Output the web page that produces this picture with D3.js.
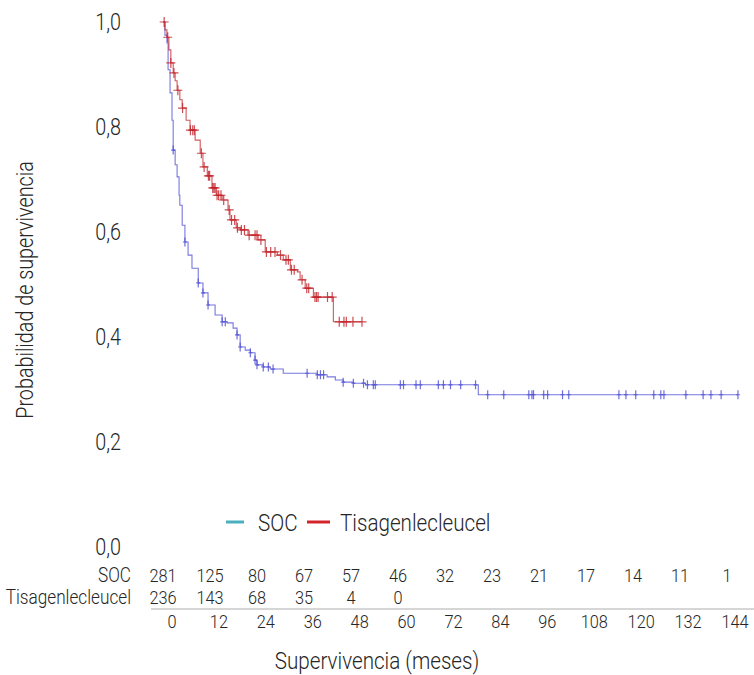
<!DOCTYPE html>
<html>
<head>
<meta charset="utf-8">
<script src="https://cdn.jsdelivr.net/npm/d3@7"></script>
<style>
  html, body { margin: 0; padding: 0; background: #fff; }
  svg { display: block; }
  text { font-family: Roboto, "Noto Sans", sans-serif; font-weight: 300; fill: #262626; }
</style>
</head>
<body>
<svg id="chart" width="754" height="675"></svg>
<script>
// Kaplan-Meier estimates: time of each drop (months) and survival after it
const socTime = [0, 0.5, 1.0, 1.3, 1.8, 2.3, 2.6, 3.1, 3.6, 4.1, 4.3, 4.9, 5.6, 6.4, 7.4, 9.0, 10.2, 11.5, 13.3, 15.1, 16.4, 17.9, 18.9, 19.7, 21.0, 22.3, 23.5, 24.0, 25.6, 27.4, 30.7, 39.4, 41.9, 44.0, 46.0, 48.6, 51.7, 80.5];
const socSurv = [1.0, 0.975, 0.96, 0.909, 0.865, 0.813, 0.756, 0.728, 0.705, 0.670, 0.651, 0.613, 0.581, 0.556, 0.531, 0.503, 0.484, 0.461, 0.442, 0.429, 0.427, 0.417, 0.404, 0.381, 0.375, 0.370, 0.356, 0.347, 0.343, 0.339, 0.331, 0.328, 0.324, 0.318, 0.314, 0.312, 0.309, 0.290];
const socEnd = 146.8;
const socCensor = [2.6, 5.6, 9.0, 10.2, 11.5, 15.1, 15.9, 18.9, 19.7, 22.3, 23.5, 24.0, 25.6, 26.9, 28.1, 36.8, 39.4, 40.2, 41.0, 46.0, 48.6, 51.2, 52.2, 53.7, 54.2, 60.6, 61.4, 64.6, 65.7, 70.3, 71.6, 73.4, 76.0, 79.8, 82.9, 87.0, 93.4, 94.2, 94.6, 97.2, 98.2, 102.0, 103.6, 116.4, 118.2, 120.7, 125.3, 127.1, 127.9, 133.5, 137.9, 139.9, 142.5, 146.8];

const tisaTime = [0, 0.5, 1.0, 1.5, 2.0, 2.6, 3.1, 3.6, 4.3, 4.9, 5.9, 6.9, 8.2, 9.5, 10.2, 11.3, 12.5, 13.6, 15.1, 16.6, 17.1, 18.7, 19.7, 21.7, 24.3, 26.1, 29.2, 30.7, 32.5, 34.3, 35.0, 36.3, 38.4, 43.5];
const tisaSurv = [1.0, 0.985, 0.971, 0.947, 0.922, 0.903, 0.888, 0.870, 0.852, 0.836, 0.813, 0.794, 0.775, 0.750, 0.724, 0.707, 0.684, 0.670, 0.661, 0.642, 0.623, 0.608, 0.604, 0.594, 0.585, 0.562, 0.556, 0.547, 0.528, 0.524, 0.509, 0.493, 0.476, 0.429];
const tisaEnd = 50.8;
const tisaCensor = [0.3, 1.2, 2.0, 2.8, 3.8, 5.0, 7.0, 7.6, 8.0, 9.8, 10.5, 11.6, 11.9, 12.7, 13.0, 13.3, 13.8, 14.2, 14.8, 15.5, 16.9, 17.5, 18.3, 19.0, 20.0, 20.8, 22.0, 23.5, 24.0, 25.0, 26.4, 27.5, 28.6, 30.0, 31.4, 32.0, 32.8, 33.5, 35.5, 36.7, 37.2, 38.8, 39.2, 39.6, 42.0, 43.2, 45.0, 46.2, 46.8, 48.5, 50.8];

// Numbers at risk
const riskMonths = [0, 12, 24, 36, 48, 60, 72, 84, 96, 108, 120, 132, 144];
const socRisk = [281, 125, 80, 67, 57, 46, 32, 23, 21, 17, 14, 11, 1];
const tisaRisk = [236, 143, 68, 35, 4, 0];

const yTicks = [0, 0.2, 0.4, 0.6, 0.8, 1.0];
const seriesNames = ["SOC", "Tisagenlecleucel"];

const svg = d3.select("#chart");
const COND = 0.86; // horizontal squeeze for a condensed look

const x = d3.scaleLinear().domain([0, 144]).range([163, 727]);
const y = d3.scaleLinear().domain([0, 1]).range([547, 22]);
const xLab = d3.scaleLinear().domain([0, 144]).range([172, 735]);

function label(g, txt, px, py, size, anchor, rotate) {
  return g.append("text")
    .attr("transform", `translate(${px},${py})` + (rotate ? ` rotate(${rotate})` : "") + ` scale(${COND},1)`)
    .attr("text-anchor", anchor || "start")
    .style("font-size", size + "px")
    .text(txt);
}

const comma = d3.format(".1f");
const fmt = v => comma(v).replace(".", ",");

// y tick labels
const yAxisG = svg.append("g");
yTicks.forEach(v => label(yAxisG, fmt(v), 121, y(v) + 8, 23, "end"));

// y title
label(svg, "Probabilidad de supervivencia", 33, 290, 23, "middle", -90);

// survival curves
function stepPoints(times, surv, end) {
  const pts = times.map((t, i) => [t, surv[i]]);
  pts.push([end, surv[surv.length - 1]]);
  return pts;
}
function survAt(times, surv, t) {
  let s = surv[0];
  for (let i = 0; i < times.length; i++) if (times[i] <= t) s = surv[i];
  return s;
}
const line = d3.line().x(d => x(d[0])).y(d => y(d[1])).curve(d3.curveStepAfter);

const series = [
  { times: socTime, surv: socSurv, end: socEnd, censor: socCensor, color: "#4a4ad4", w: 4, h: 9 },
  { times: tisaTime, surv: tisaSurv, end: tisaEnd, censor: tisaCensor, color: "#c01f26", w: 9, h: 10 }
];

series.forEach(s => {
  const g = svg.append("g");
  g.append("path")
    .attr("d", line(stepPoints(s.times, s.surv, s.end)))
    .attr("fill", "none")
    .attr("stroke", s.color)
    .attr("stroke-width", 1.1)
    .attr("stroke-opacity", 0.75);
  g.selectAll("path.cm")
    .data(s.censor)
    .join("path")
    .attr("class", "cm")
    .attr("d", t => {
      const cx = x(t), cy = y(survAt(s.times, s.surv, t));
      return `M${cx - s.w / 2},${cy}H${cx + s.w / 2}M${cx},${cy - s.h / 2}V${cy + s.h / 2}`;
    })
    .attr("stroke", s.color)
    .attr("stroke-width", 1.2)
    .attr("stroke-opacity", 0.8)
    .attr("fill", "none");
});

// legend
const legendColors = ["#4bb0bd", "#d4242b"];
const leg = svg.append("g");
const legItems = [{ lx: 226, tx: 258 }, { lx: 307, tx: 340 }];
seriesNames.forEach((n, i) => {
  leg.append("line")
    .attr("x1", legItems[i].lx).attr("x2", legItems[i].lx + (i ? 23 : 18))
    .attr("y1", 522).attr("y2", 522)
    .attr("stroke", legendColors[i]).attr("stroke-width", 3);
  label(leg, n, legItems[i].tx, 531, 24, "start");
});

// risk table
const risk = svg.append("g");
[socRisk, tisaRisk].forEach((arr, r) => {
  const ry = 582 + r * 22;
  label(risk, seriesNames[r], 131, ry, 20, "end");
  arr.forEach((v, i) => label(risk, String(v), x(riskMonths[i]), ry, 19, "middle"));
});

// bottom rule and month labels
svg.append("line")
  .attr("x1", 151).attr("x2", 754).attr("y1", 609).attr("y2", 609)
  .attr("stroke", "#c8c8c8").attr("stroke-width", 1.5);
riskMonths.forEach(m => label(svg, String(m), xLab(m), 628, 19, "middle"));

label(svg, "Supervivencia (meses)", 377, 669, 24, "middle");
</script>
</body>
</html>
